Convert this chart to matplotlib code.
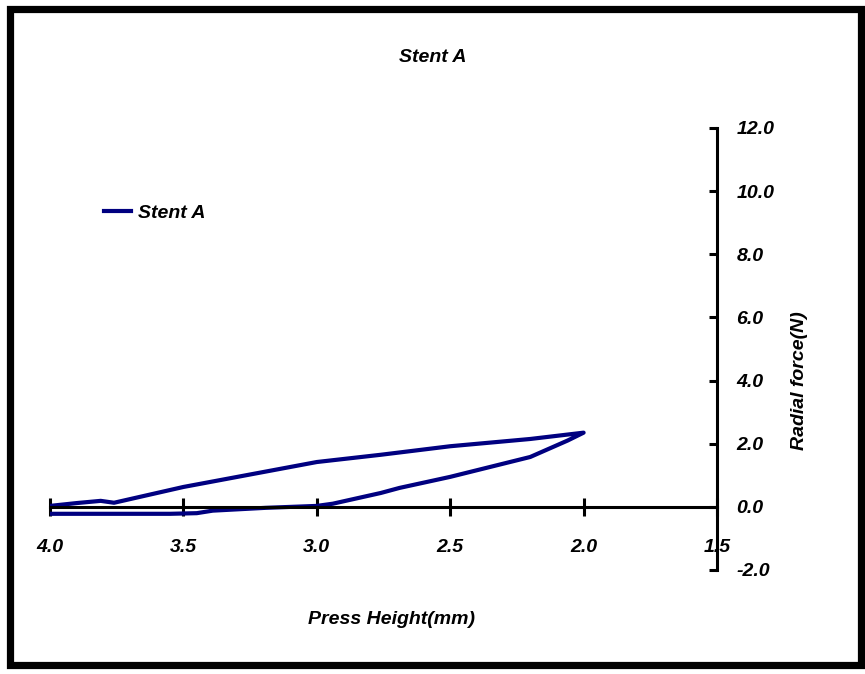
import numpy as np
import matplotlib.pyplot as plt
from matplotlib.patches import Rectangle

# ==== data ====
# loop: upper branch 4.0 -> 2.0, then lower branch 2.0 -> 4.0
press_height = [4.0, 3.9, 3.81, 3.76, 3.5, 3.0, 2.76, 2.5, 2.2, 2.0,
                2.06, 2.2, 2.5, 2.69, 2.76, 2.94, 3.0, 3.19, 3.39, 3.45, 3.55, 4.0]
radial_force = [0.03, 0.12, 0.19, 0.13, 0.63, 1.42, 1.65, 1.92, 2.15, 2.35,
                2.1, 1.58, 0.95, 0.6, 0.44, 0.1, 0.03, -0.03, -0.12, -0.2, -0.22, -0.22]
x_ticks = [4.0, 3.5, 3.0, 2.5, 2.0, 1.5]
y_ticks = [-2.0, 0.0, 2.0, 4.0, 6.0, 8.0, 10.0, 12.0]

plt.rcParams['font.family'] = ['Liberation Sans', 'DejaVu Sans']

fig = plt.figure(figsize=(8.65, 6.74), dpi=100)
ax = fig.add_axes([50/865, 1 - 570/674, 667/865, 442/674])

ax.plot(press_height, radial_force, color='#000080', lw=3, label='Stent A')

ax.set_xlim(4.0, 1.5)
ax.set_ylim(-2.0, 12.0)
ax.set_xticks(x_ticks)
ax.set_yticks(y_ticks)
ax.set_xticklabels([f'{v:.1f}' for v in x_ticks])
ax.set_yticklabels([f'{v:.1f}' for v in y_ticks])

ax.spines['top'].set_visible(False)
ax.spines['left'].set_visible(False)
ax.spines['bottom'].set_position(('data', 0))
for s in ['bottom', 'right']:
    ax.spines[s].set_linewidth(2.2)
ax.yaxis.tick_right()
ax.tick_params(axis='x', direction='inout', length=13, width=2.2, pad=17)
ax.tick_params(axis='y', direction='in', length=6, width=2.2, pad=14)
for lab in ax.get_xticklabels() + ax.get_yticklabels():
    lab.set_fontstyle('italic')
    lab.set_fontweight('bold')
    lab.set_fontsize(14)
for lab in ax.get_yticklabels():
    lab.set_horizontalalignment('left')

tfont = dict(fontsize=14, style='italic', fontweight='bold')
fig.text(433/865, 1 - 57/674, 'Stent A', ha='center', va='center', **tfont)
fig.text(391/865, 1 - 620/674, 'Press Height(mm)', ha='center', va='center', **tfont)
fig.text(800/865, 1 - 381/674, 'Radial force(N)', ha='center', va='center',
         rotation=90, **tfont)

ax.legend(loc='center left', bbox_to_anchor=(86/865, 1 - 213/674),
          bbox_transform=fig.transFigure, frameon=False, handlelength=1.4,
          handletextpad=0.35, prop=dict(size=14, style='italic', weight='bold'))

# thick frame around the whole chart
fig.patches.append(Rectangle((9.5/865, 9/674), 851/865, 656/674,
                             transform=fig.transFigure, fill=False,
                             edgecolor='black', lw=5.2))

fig.savefig('out.png', dpi=100)
